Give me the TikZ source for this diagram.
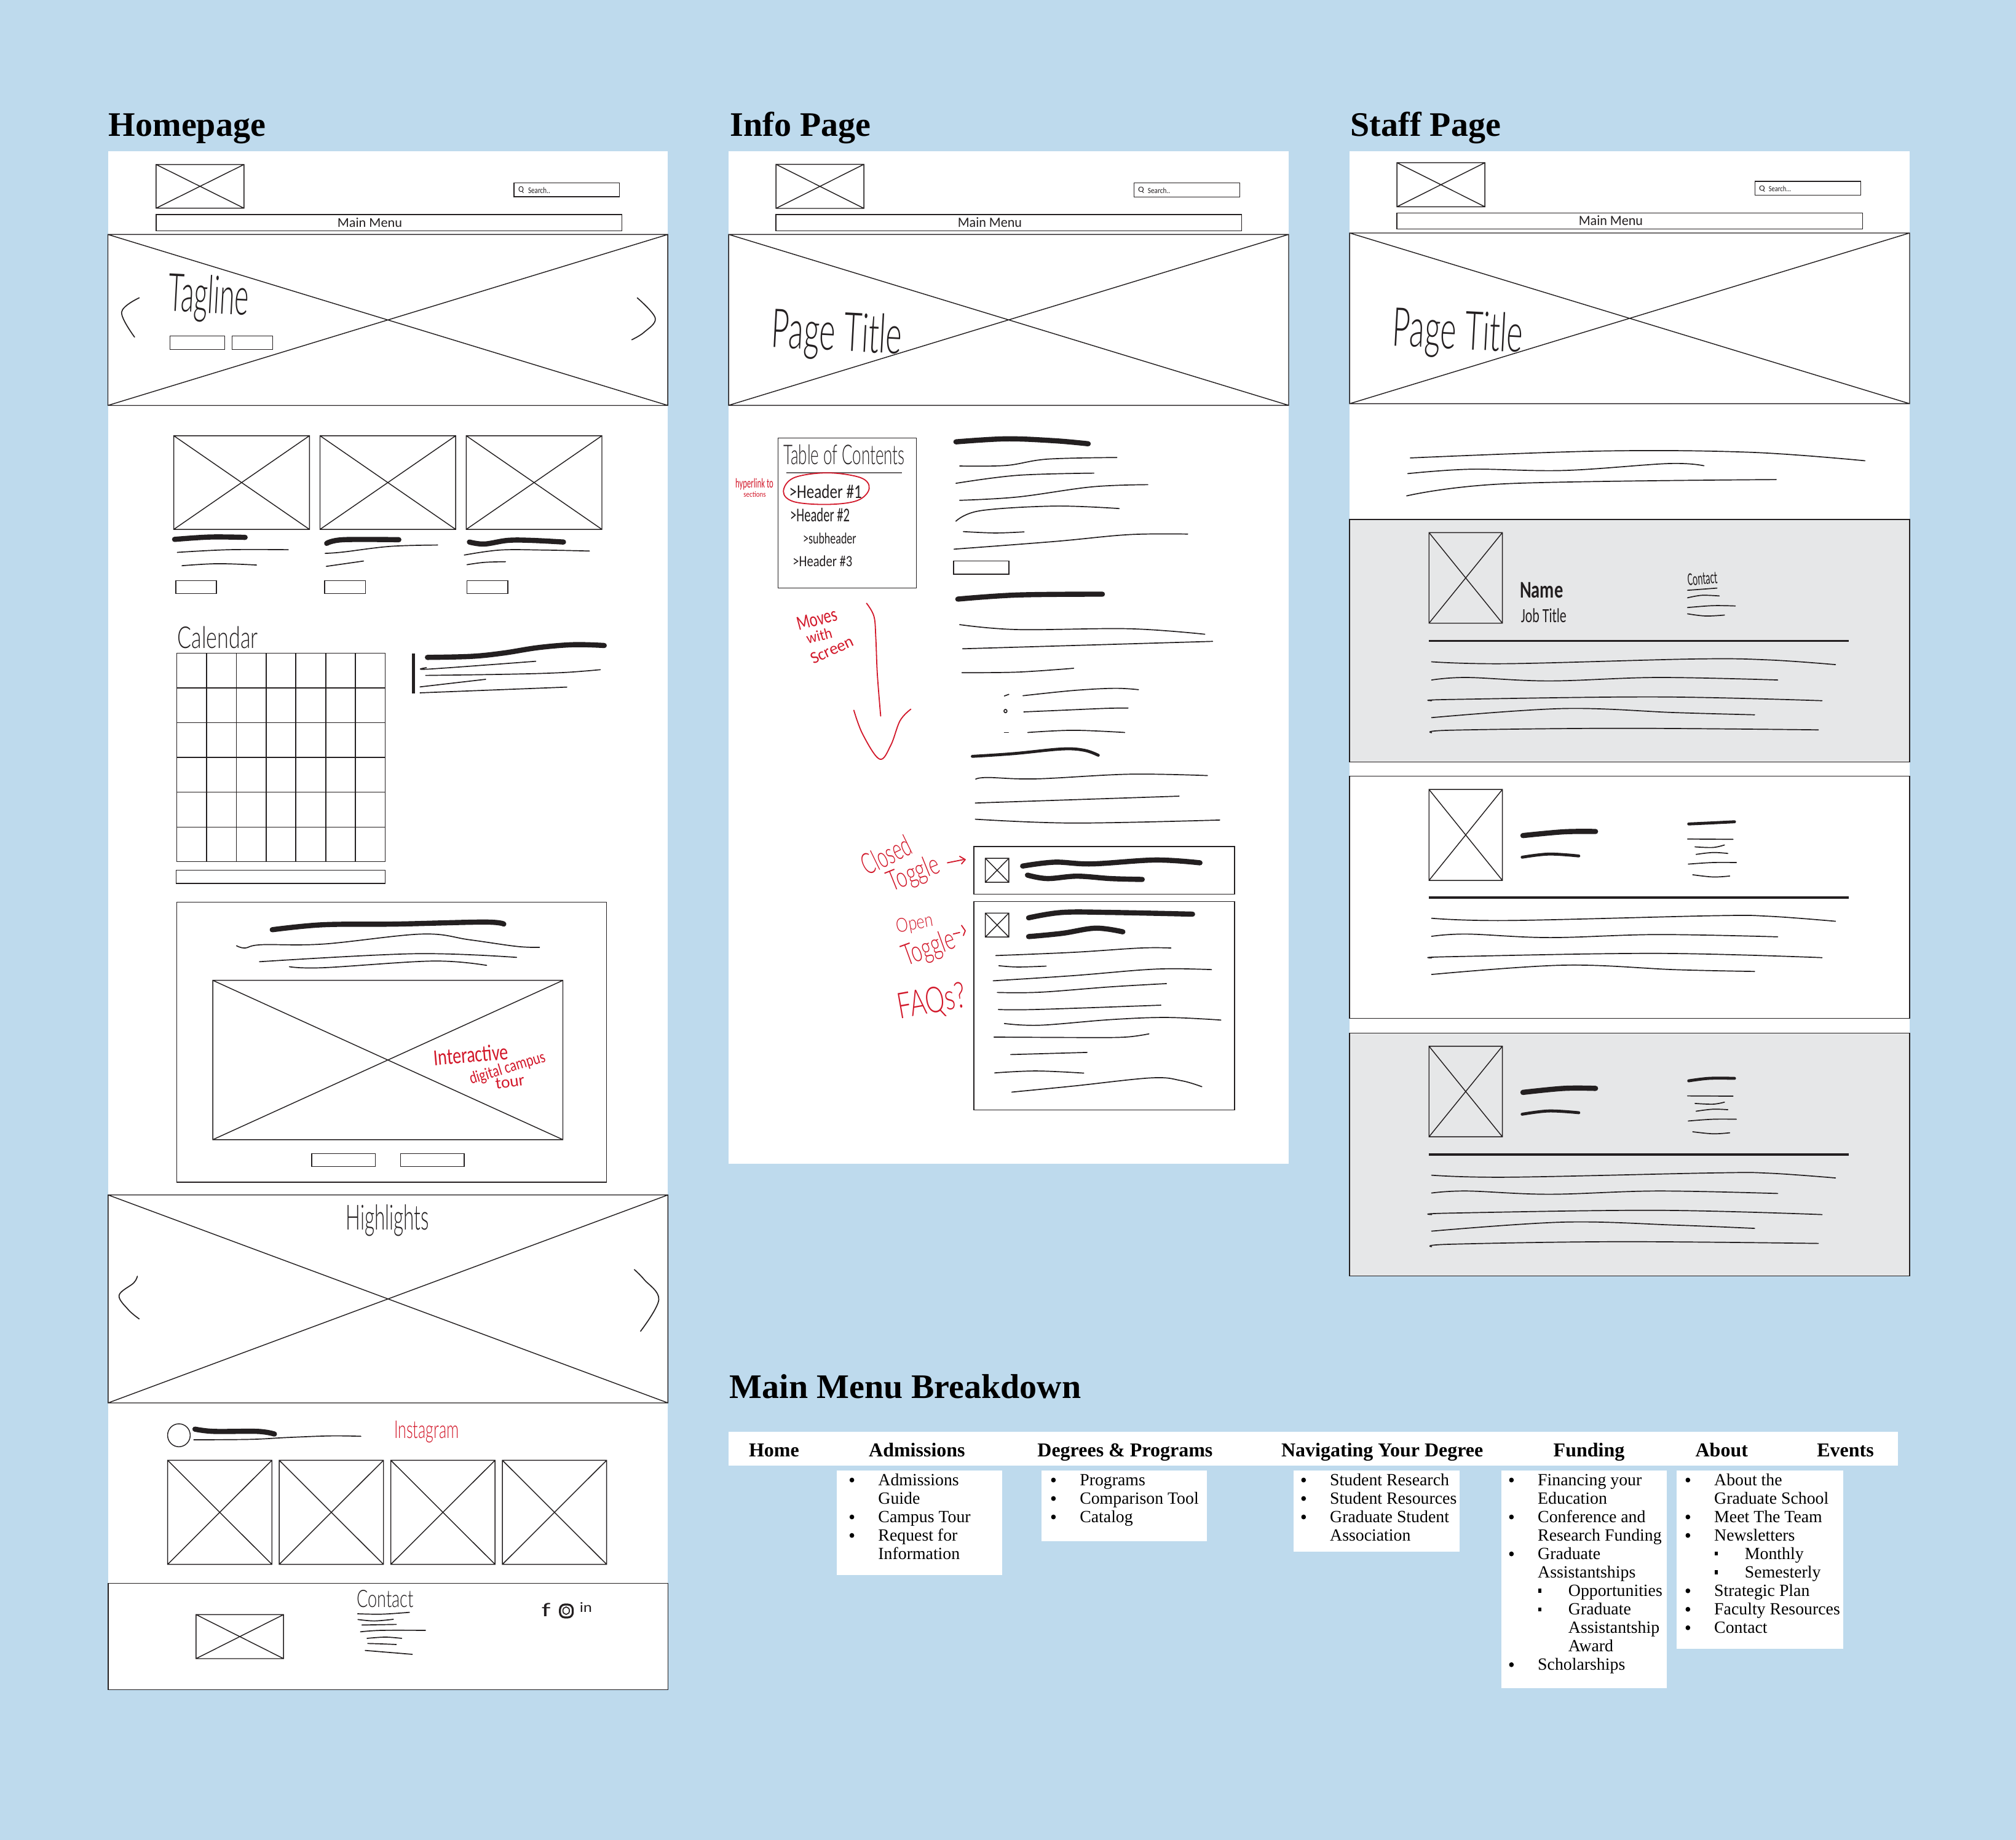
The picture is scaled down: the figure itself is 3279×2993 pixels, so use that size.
\documentclass[tikz,border=0pt]{standalone}
\usepackage{graphicx}
\usepackage{fontspec}
\setmainfont{Liberation Serif}
\newfontfamily\handfont{Lato Light}
\newfontfamily\handmed{Carlito}
\definecolor{skybg}{HTML}{BEDAED}
\definecolor{ink}{HTML}{231F20}
\definecolor{redpen}{HTML}{D2182A}
\definecolor{panelgray}{HTML}{E6E7E8}
\tikzset{
  wire/.style={draw=ink,line width=0.36pt},
  sq/.style={draw=ink,line width=0.42pt,line cap=round,line join=round},
  fat/.style={draw=ink,line width=2.1pt,line cap=round,line join=round},
  med/.style={draw=ink,line width=1.2pt,line cap=round,line join=round},
  redline/.style={draw=redpen,line width=0.45pt,line cap=round,line join=round},
  heading/.style={anchor=base west,inner sep=0pt,font=\fontsize{14}{14}\selectfont\bfseries,text=black},
  menuhead/.style={anchor=base west,inner sep=0pt,font=\fontsize{8}{8}\selectfont\bfseries,text=black},
  menuitem/.style={anchor=base west,inner sep=0pt,font=\fontsize{6.95}{7}\selectfont,text=black},
  redhand/.style={text=redpen},
}
\newcounter{nn}
% hand-lettered label: centre, width and height in the units of the current zone
\newcommand{\hand}[6][]{%
  \pgfmathsetlengthmacro\hw{(#4)/\zx*0.25pt}%
  \pgfmathsetlengthmacro\hh{(#5)/\zy*0.25pt}%
  \stepcounter{nn}%
  \node[inner sep=0pt,text=ink,#1] (h\thenn) at (#2,#3) {\resizebox*{\hw}{\hh}{\handfont #6}};}
\newcommand{\xbox}[5][wire]{\draw[#1] (#2,#3) rectangle (#4,#5) (#2,#3) -- (#4,#5) (#2,#5) -- (#4,#3);}
\newcommand{\sqg}[2][sq]{\draw[#1] plot[smooth,tension=0.6] coordinates {#2};}
\newcommand{\zone}[4]{\begin{scope}[shift={(#1,#2)},xscale=1/#3,yscale=1/#4]\def\zx{#3}\def\zy{#4}}
\newcommand{\li}[3]{%
  \stepcounter{nn}%
  \node[menuitem] (m\thenn) at (#1,605+84.1*#2) {#3};
  \fill[black] (#1-33,581+84.1*#2) ellipse (3 and 11);}
\newcommand{\lic}[3]{%
  \stepcounter{nn}%
  \node[menuitem] (m\thenn) at (#1,605+84.1*#2) {#3};}
\newcommand{\lis}[3]{%
  \stepcounter{nn}%
  \node[menuitem] (m\thenn) at (#1,605+84.1*#2) {#3};
  \fill[black] (#1-38,572+84.1*#2) rectangle (#1-34,589+84.1*#2);}
\begin{document}
\begin{tikzpicture}[x=0.25pt,y=-0.25pt]
\useasboundingbox (0,0) rectangle (3279,2993);
\fill[skybg] (0,0) rectangle (3279,2993);
% page sheets
\fill[white] (176,246) rectangle (1086,2748);
\fill[white] (1185,246) rectangle (2096,1893);
\fill[white] (2195,246) rectangle (3106,2075);
% headings
\node[heading] (homeHead) at (176,222) {Homepage};
\node[heading] (infoHead) at (1187,222) {Info Page};
\node[heading] (staffHead) at (2196,222) {Staff Page};
\node[heading] (menuHead) at (1186,2274) {Main Menu Breakdown};

%%%%%%%% Homepage top
\zone{150}{150}{1.568}{1.845}
\xbox{163}{217}{387}{348}
\draw[wire] (1076,272) rectangle (1345,314);
\hand{1094}{294}{14}{20}{\handmed Q}
\hand{1140}{294}{56}{18}{\handmed Search..}
\draw[wire] (163,367) rectangle (1351,416);
\hand{708}{391}{165}{28}{\handmed Main Menu}
\xbox{40}{427}{1468}{940}
\hand[rotate=-3]{297}{620}{205}{144}{Tagline}
\sqg{(120,617)(75,660)(108,735)}
\sqg{(1390,617)(1436,678)(1408,720)(1376,743)}
\draw[wire] (198,732) rectangle (338,772);
\draw[wire] (357,732) rectangle (460,772);
\xbox{208}{1031}{554}{1312}
\xbox{581}{1031}{927}{1312}
\xbox{954}{1031}{1300}{1312}
\sqg[fat]{(210,1342)(300,1335)(390,1336)}
\sqg[fat]{(598,1354)(640,1343)(782,1343)}
\sqg[fat]{(962,1350)(1000,1356)(1060,1345)(1120,1345)(1202,1350)}
\sqg{(217,1381)(350,1373)(500,1373)}
\sqg{(229,1421)(320,1415)(419,1419)}
\sqg{(594,1384)(640,1380)(760,1363)(881,1359)}
\sqg{(597,1423)(692,1407)}
\sqg{(949,1389)(1040,1374)(1150,1374)(1268,1377)}
\sqg{(956,1418)(1000,1411)(1054,1409)}
\draw[wire] (213,1466) rectangle (317,1505);
\draw[wire] (593,1466) rectangle (697,1505);
\draw[wire] (956,1466) rectangle (1060,1505);
\end{scope}

%%%%%%%% Calendar
\zone{170}{1000}{1.742}{3.0}
\hand{321}{112}{228}{108}{Calendar}
\draw[wire] (205,187) rectangle (795,1204);
\foreach \xx in {289,374,458,542,627,711} \draw[wire] (\xx,187) -- (\xx,1204);
\foreach \yy in {357,527,696,866,1036} \draw[wire] (205,\yy) -- (795,\yy);
\draw[wire] (203,1246) rectangle (795,1311);
\draw[draw=ink,line width=1.2pt] (875,189) -- (875,383);
\sqg[fat]{(915,208)(1040,203)(1130,187)(1230,160)(1330,146)(1416,150)}
\sqg{(912,258)(920,265)(1222,227)}
\sqg{(910,296)(1150,290)(1300,282)(1405,268)}
\sqg{(894,352)(1080,315)}
\sqg{(894,381)(1310,353)}
\end{scope}

%%%%%%%% Campus tour and highlights
\zone{170}{1450}{1.686}{1.845}
\draw[wire] (198,32) rectangle (1377,873);
\sqg[fat]{(460,115)(600,100)(800,98)(1040,92)(1095,98)}
\sqg{(362,163)(385,170)(430,160)(600,158)(870,128)(1000,145)(1130,165)(1193,168)}
\sqg{(425,211)(850,187)(1130,198)}
\sqg{(507,226)(600,229)(900,209)(1048,222)}
\xbox{297}{267}{1257}{745}
\hand[redhand,rotate=5]{1005}{490}{205}{48}{\handmed Interactive}
\hand[redhand,rotate=17]{1105}{532}{215}{44}{\handmed digital campus}
\hand[redhand,rotate=8]{1112}{572}{80}{32}{\handmed tour}
\draw[wire] (568,787) rectangle (743,826);
\draw[wire] (812,787) rectangle (986,826);
\xbox{10}{911}{1545}{1535}
\hand{776}{987}{228}{95}{Highlights}
\sqg{(90,1155)(80,1175)(40,1212)(65,1255)(95,1283)}
\sqg{(1453,1135)(1480,1165)(1520,1225)(1470,1320)}
\end{scope}

%%%%%%%% Instagram and footer
\zone{170}{2250}{1.686}{3.0}
\draw[wire] (204,254) ellipse (31 and 56);
\sqg[fat]{(248,224)(300,235)(420,235)(466,248)}
\sqg{(245,276)(400,274)(500,265)(620,257)(703,259)}
\hand[redhand]{883}{237}{177}{107}{Instagram}
\xbox{173}{376}{459}{884}
\xbox{479}{376}{765}{884}
\xbox{785}{376}{1071}{884}
\xbox{1091}{376}{1377}{884}
\draw[wire] (10,977) rectangle (1545,1495);
\xbox{251}{1129}{491}{1344}
\hand{770}{1052}{156}{85}{Contact}
\sqg{(694,1125)(760,1127)(836,1118)}
\sqg{(695,1153)(740,1160)(792,1152)}
\sqg{(706,1180)(800,1177)}
\sqg{(702,1213)(760,1206)(880,1206)}
\sqg{(720,1245)(770,1239)(815,1245)}
\sqg{(722,1270)(760,1272)(800,1275)}
\sqg{(715,1304)(844,1323)}
\hand{1211}{1105}{24}{65}{\handmed f}
\draw[draw=ink,line width=0.8pt,rounded corners=2pt] (1249,1080) rectangle (1284,1143);
\draw[sq] (1266,1110) ellipse (9 and 18);
\hand{1320}{1095}{34}{48}{\handmed in}
\end{scope}

%%%%%%%% Info page top
\zone{1170}{160}{1.65}{3.0}
\xbox{152}{322}{388}{537}
\draw[wire] (1113,412) rectangle (1397,481);
\hand{1132}{448}{16}{30}{\handmed Q}
\hand{1180}{450}{60}{27}{\handmed Search..}
\draw[wire] (152,567) rectangle (1402,647);
\hand{726}{606}{172}{48}{\handmed Main Menu}
\xbox{25}{664}{1528}{1498}
\hand[rotate=-3]{315}{1160}{350}{240}{Page Title}
\end{scope}

%%%%%%%% Info page body
\zone{1170}{650}{1.65}{2.24}
\draw[wire] (158,140) rectangle (529,686);
\hand{335}{201}{326}{73}{Table of Contents}
\draw[draw=ink!70,line width=0.5pt] (180,267) -- (490,267);
\draw[redline] plot[smooth cycle,tension=0.6] coordinates {(172,335)(200,285)(290,267)(380,285)(402,325)(370,368)(290,382)(200,372)};
\hand{285}{335}{195}{50}{\handmed >Header \#1}
\hand{270}{420}{160}{50}{\handmed >Header \#2}
\hand{296}{505}{143}{40}{\handmed >subheader}
\hand{277}{588}{160}{40}{\handmed >Header \#3}
\hand[redhand]{94}{308}{102}{42}{\handmed hyperlink to}
\hand[redhand]{95}{345}{60}{20}{\handmed sections}
\hand[redhand,rotate=15]{262}{800}{110}{48}{\handmed Moves}
\hand[redhand,rotate=15]{268}{860}{70}{40}{\handmed with}
\hand[redhand,rotate=25]{302}{912}{122}{40}{\handmed Screen}
\draw[redline] plot[smooth,tension=0.6] coordinates {(395,742)(415,790)(420,870)(424,1000)(433,1153)};
\draw[redline] plot[smooth,tension=0.6] coordinates {(361,1132)(385,1220)(430,1310)(460,1260)(485,1170)(514,1128)};
\sqg[fat]{(635,154)(770,143)(900,150)(990,161)}
\sqg{(645,242)(770,240)(880,217)(1067,211)}
\sqg{(635,305)(800,276)(1005,268)}
\sqg{(645,367)(800,355)(1000,318)(1150,310)}
\sqg{(635,443)(700,405)(900,388)(1073,397)}
\sqg{(655,481)(740,486)(818,482)}
\sqg{(630,545)(900,517)(1100,492)(1257,490)}
\draw[wire] (629,588) rectangle (777,636);
\sqg[fat]{(640,727)(800,712)(1028,709)}
\sqg{(645,820)(800,838)(1100,835)(1303,855)}
\sqg{(653,908)(1324,881)}
\sqg{(651,995)(800,993)(951,979)}
\draw[sq] (765,1080) -- (777,1074);
\draw[sq] (768,1135) ellipse (4 and 6);
\draw[sq] (765,1213) -- (776,1213);
\sqg{(815,1079)(950,1060)(1060,1052)(1125,1057)}
\sqg{(817,1138)(920,1132)(1040,1125)(1097,1124)}
\sqg{(828,1213)(950,1205)(1088,1213)}
\sqg[med]{(679,1300)(790,1290)(920,1273)(980,1278)(1017,1296)}
\sqg{(688,1383)(720,1377)(850,1382)(1100,1365)(1310,1370)}
\sqg{(687,1470)(1234,1445)}
\sqg{(687,1529)(950,1543)(1343,1532)}
\end{scope}

%%%%%%%% Info page toggles
\zone{1170}{1300}{1.65}{2.85}
\draw[wire] (683,220) rectangle (1383,440);
\xbox{714}{274}{777}{385}
\sqg[fat]{(814,310)(900,292)(1000,300)(1170,282)(1290,295)}
\sqg[fat]{(827,352)(880,368)(960,357)(1050,368)(1135,372)}
\draw[wire] (683,475) rectangle (1383,1441);
\xbox{714}{528}{777}{639}
\sqg[fat]{(830,550)(920,525)(1050,525)(1270,533)}
\sqg[fat]{(830,637)(920,622)(1010,598)(1083,615)}
\sqg{(742,725)(950,710)(1130,690)(1212,690)}
\sqg{(750,772)(800,778)(877,774)}
\sqg{(735,842)(950,818)(1130,792)(1220,786)(1321,790)}
\sqg{(746,896)(860,895)(1050,870)(1200,855)}
\sqg{(749,975)(850,975)(1185,955)}
\sqg{(765,1040)(860,1048)(1050,1022)(1200,1012)(1346,1024)}
\sqg{(737,1103)(980,1105)(1090,1103)(1153,1088)}
\sqg{(782,1184)(987,1174)}
\sqg{(739,1269)(850,1260)(978,1270)}
\sqg{(785,1358)(950,1330)(1160,1292)(1240,1305)(1295,1333)}
\hand[redhand,rotate=26]{448}{258}{140}{100}{Closed}
\hand[redhand,rotate=22]{522}{350}{145}{120}{Toggle}
\draw[redline] (612,295) -- (655,280) (645,265) -- (660,280) -- (650,300);
\hand[redhand,rotate=10]{525}{580}{100}{80}{Open}
\hand[redhand,rotate=20]{563}{695}{145}{125}{Toggle}
\draw[redline] (628,625) -- (645,618) (650,585) -- (660,610) -- (655,632);
\hand[redhand,rotate=10]{570}{945}{185}{145}{FAQs?}
\end{scope}

%%%%%%%% Staff page top
\zone{2180}{160}{1.65}{3.0}
\xbox{152}{314}{388}{529}
\draw[wire] (1113,405) rectangle (1397,473);
\hand{1132}{441}{16}{30}{\handmed Q}
\hand{1180}{441}{60}{27}{\handmed Search...}
\draw[wire] (152,560) rectangle (1402,638);
\hand{726}{597}{172}{48}{\handmed Main Menu}
\xbox{25}{657}{1528}{1490}
\hand[rotate=-3]{315}{1152}{350}{240}{Page Title}
\end{scope}

%%%%%%%% Staff panels 1 and 2
\zone{2180}{700}{1.65}{1.96}
\sqg{(188,88)(700,66)(1100,70)(1408,97)}
\sqg{(181,138)(350,124)(600,128)(880,106)(976,113)}
\sqg{(178,209)(450,170)(1170,157)}
\draw[wire,fill=panelgray] (25,284) rectangle (1528,1058);
\xbox{238}{326}{435}{615}
\hand{540}{510}{116}{50}{\handmed\bfseries Name}
\hand{546}{590}{122}{45}{\handmed Job Title}
\hand[rotate=5]{972}{473}{80}{38}{\handmed Contact}
\sqg{(932,510)(1011,503)}
\sqg{(932,534)(970,526)(1017,528)}
\sqg{(932,565)(1000,559)(1060,560)}
\sqg{(932,585)(980,592)(1031,589)}
\draw[draw=ink,line width=0.9pt] (238,671) -- (1365,671);
\sqg{(245,738)(450,744)(950,729)(1150,732)(1329,747)}
\sqg{(245,796)(340,788)(560,799)(850,788)(1174,796)}
\sqg{(245,862)(300,858)(850,850)(1293,862)}
\sqg{(245,916)(600,887)(900,900)(1112,907)}
\sqg{(245,964)(300,956)(750,950)(1283,955)}
\draw[wire] (25,1103) rectangle (1528,1875);
\xbox{238}{1145}{435}{1435}
\sqg[fat]{(490,1292)(600,1280)(685,1279)}
\sqg[med]{(488,1361)(560,1351)(640,1357)}
\sqg[med]{(935,1255)(990,1252)(1058,1248)}
\sqg{(932,1303)(1054,1304)}
\sqg{(952,1328)(1000,1330)(1031,1322)}
\sqg{(955,1352)(1000,1346)(1040,1349)}
\sqg{(934,1383)(1000,1378)(1063,1378)}
\sqg{(946,1417)(1000,1424)(1045,1421)}
\draw[draw=ink,line width=0.9pt] (238,1490) -- (1365,1490);
\end{scope}

%%%%%%%% Staff panels 2 (text) and 3
\zone{2180}{1450}{1.65}{2.45}
\sqg{(245,107)(450,116)(1000,97)(1150,99)(1329,119)}
\sqg{(245,179)(340,170)(560,184)(850,172)(1174,181)}
\sqg{(245,265)(300,260)(850,247)(1293,264)}
\sqg{(245,331)(600,294)(900,312)(1112,319)}
\draw[wire,fill=panelgray] (25,565) rectangle (1528,1532);
\xbox{238}{617}{435}{978}
\sqg[fat]{(490,801)(600,785)(685,785)}
\sqg[med]{(488,888)(560,875)(640,882)}
\sqg[med]{(935,755)(990,745)(1058,745)}
\sqg{(932,815)(1054,816)}
\sqg{(952,845)(1000,848)(1031,840)}
\sqg{(955,876)(1000,868)(1040,870)}
\sqg{(934,915)(1000,908)(1063,908)}
\sqg{(946,958)(1000,966)(1045,962)}
\draw[draw=ink,line width=0.9pt] (238,1048) -- (1365,1048);
\sqg{(245,1131)(450,1139)(1000,1122)(1150,1123)(1329,1142)}
\sqg{(245,1202)(340,1194)(560,1207)(850,1194)(1174,1204)}
\sqg{(245,1288)(300,1282)(850,1271)(1293,1288)}
\sqg{(245,1354)(600,1318)(900,1330)(1112,1343)}
\sqg{(245,1416)(300,1406)(750,1396)(1283,1403)}
\end{scope}

%%%%%%%% Main menu breakdown
\zone{1170}{2200}{0.784}{2.8}
\fill[white] (12,361) rectangle (1503,515);
\node[menuhead] (mHome) at (37,475) {Home};
\node[menuhead] (mAdm) at (190,475) {Admissions};
\node[menuhead] (mDeg) at (405,475) {Degrees \& Programs};
\node[menuhead] (mNav) at (716,475) {Navigating Your Degree};
\node[menuhead] (mFun) at (1063,475) {Funding};
\node[menuhead] (mAbo) at (1244,475) {About};
\node[menuhead] (mEve) at (1399,475) {Events};
\fill[white] (150,539) rectangle (361,1013);
\fill[white] (411,539) rectangle (622,860);
\fill[white] (732,539) rectangle (944,907);
\fill[white] (997,539) rectangle (1208,1530);
\fill[white] (1221,539) rectangle (1433,1351);
% Admissions
\li{202}{0}{Admissions}
\lic{202}{1}{Guide}
\li{202}{2}{Campus Tour}
\li{202}{3}{Request for}
\lic{202}{4}{Information}
% Degrees
\li{459}{0}{Programs}
\li{459}{1}{Comparison Tool}
\li{459}{2}{Catalog}
% Navigating
\li{778}{0}{Student Research}
\li{778}{1}{Student Resources}
\li{778}{2}{Graduate Student}
\lic{778}{3}{Association}
% Funding
\li{1043}{0}{Financing your}
\lic{1043}{1}{Education}
\li{1043}{2}{Conference and}
\lic{1043}{3}{Research Funding}
\li{1043}{4}{Graduate}
\lic{1043}{5}{Assistantships}
\lis{1082}{6}{Opportunities}
\lis{1082}{7}{Graduate}
\lic{1082}{8}{Assistantship}
\lic{1082}{9}{Award}
\li{1043}{10}{Scholarships}
% About
\li{1268}{0}{About the}
\lic{1268}{1}{Graduate School}
\li{1268}{2}{Meet The Team}
\li{1268}{3}{Newsletters}
\lis{1307}{4}{Monthly}
\lis{1307}{5}{Semesterly}
\li{1268}{6}{Strategic Plan}
\li{1268}{7}{Faculty Resources}
\li{1268}{8}{Contact}
\end{scope}
\end{tikzpicture}
\end{document}
